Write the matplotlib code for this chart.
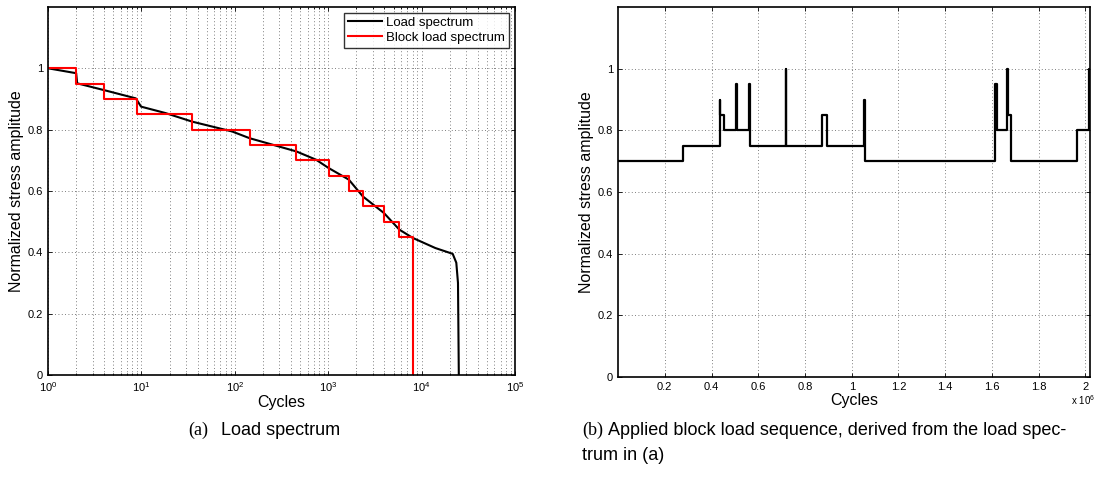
import numpy as np
import matplotlib.pyplot as plt
from matplotlib.ticker import FixedLocator, FuncFormatter, LogLocator, NullFormatter

plt.rcParams['font.family'] = ['Liberation Sans', 'DejaVu Sans']
plt.rcParams['mathtext.default'] = 'regular'

# (a) load spectrum
spec_cycles = [1, 2, 2.05, 4.2, 8.7, 9.9, 18.1, 35, 93.5, 144, 455, 740, 1007,
               1660, 2350, 3950, 5770, 8020, 14000, 21500, 23500, 24500, 25000]
spec_amp = [1.0, 0.984, 0.951, 0.927, 0.902, 0.875, 0.854, 0.826, 0.794, 0.772,
            0.729, 0.702, 0.675, 0.637, 0.582, 0.528, 0.474, 0.447, 0.414, 0.395,
            0.366, 0.30, 0.0]

block_edges = [1, 2, 4, 9, 35, 144, 455, 1007, 1660, 2350, 3950, 5770, 8020]
block_levels = [1.0, 0.95, 0.9, 0.85, 0.8, 0.75, 0.7, 0.65, 0.6, 0.55, 0.5, 0.45]

# (b) applied block sequence, start of each block in 1e6 cycles
seq_start = [0.0, 0.280, 0.435, 0.437, 0.452, 0.505, 0.511, 0.562, 0.564, 0.719,
             0.720, 0.872, 0.896, 1.053, 1.055, 1.615, 1.622, 1.664, 1.670, 1.683,
             1.962, 2.017]
seq_level = [0.70, 0.75, 0.90, 0.85, 0.80, 0.95, 0.80, 0.95, 0.75, 1.00, 0.75,
             0.85, 0.75, 0.90, 0.70, 0.95, 0.80, 1.00, 0.85, 0.70, 0.80, 1.00]
seq_end = 2.020

yticks = [0, 0.2, 0.4, 0.6, 0.8, 1.0]
ytick_labels = ['0', '0.2', '0.4', '0.6', '0.8', '1']

fig = plt.figure(figsize=(10.97, 4.8), dpi=100)
ax1 = fig.add_axes([0.0438, 0.2188, 0.4257, 0.7667])
ax2 = fig.add_axes([0.5634, 0.2146, 0.4303, 0.7708])

grid_kw = dict(color='#555555', linestyle=(0, (1, 3)), linewidth=0.6)

def style(ax):
    ax.set_ylim(0, 1.2)
    ax.set_yticks(yticks)
    ax.set_yticklabels(ytick_labels)
    ax.tick_params(which='both', direction='in', top=True, right=True,
                   labelsize=8, width=0.6)
    ax.tick_params(which='major', length=3)
    ax.tick_params(which='minor', length=1.5)
    for s in ax.spines.values():
        s.set_linewidth(1.2)
    ax.set_xlabel('Cycles', fontsize=11.5, labelpad=1)
    ax.set_ylabel('Normalized stress amplitude', fontsize=11.5, labelpad=3)

# left: load spectrum
ax1.plot(spec_cycles, spec_amp, color='black', lw=1.5, label='Load spectrum')
ax1.step(block_edges + [block_edges[-1]], block_levels + [block_levels[-1], 0],
         where='post', color='red', lw=1.5, label='Block load spectrum')
ax1.set_xscale('log')
ax1.set_xlim(1, 1e5)
ax1.xaxis.set_major_locator(LogLocator(base=10, numticks=10))
ax1.xaxis.set_minor_locator(LogLocator(base=10, subs=np.arange(2, 10), numticks=10))
ax1.xaxis.set_minor_formatter(NullFormatter())
ax1.xaxis.set_major_formatter(FuncFormatter(lambda v, p: '$10^{%d}$' % round(np.log10(v))))
ax1.grid(True, which='both', **grid_kw)
style(ax1)
leg = ax1.legend(loc='upper right', fontsize=9.5, frameon=True, fancybox=False,
                 borderpad=0.3, handlelength=2.6, handletextpad=0.3,
                 labelspacing=0.2, borderaxespad=0.45)
leg.get_frame().set_edgecolor('black')
leg.get_frame().set_linewidth(1.0)

# right: block load sequence
xs = [v * 1e6 for v in seq_start + [seq_end]]
ys = seq_level + [seq_level[-1]]
ax2.step(xs, ys, where='post', color='black', lw=1.6)
ax2.set_xlim(1, seq_end * 1e6)
ax2.xaxis.set_major_locator(FixedLocator([v * 1e6 for v in np.arange(0.2, 2.01, 0.2)]))
ax2.xaxis.set_major_formatter(FuncFormatter(lambda v, p: '%g' % round(v / 1e6, 1)))
ax2.grid(True, which='major', **grid_kw)
style(ax2)
fig.text(0.998, 0.167, r'x 10$^{6}$', fontsize=7, ha='right', va='center')

# captions
fig.text(0.1714, 0.104, '(a)', family='Liberation Serif', fontsize=13, va='center')
fig.text(0.2015, 0.104, 'Load spectrum', fontsize=13, va='center')
fig.text(0.5305, 0.104, '(b)', family='Liberation Serif', fontsize=13, va='center')
fig.text(0.5540, 0.104, 'Applied block load sequence, derived from the load spec-',
         fontsize=13, va='center')
fig.text(0.5305, 0.050, 'trum in (a)', fontsize=13, va='center')

fig.savefig('out.png', dpi=100)
